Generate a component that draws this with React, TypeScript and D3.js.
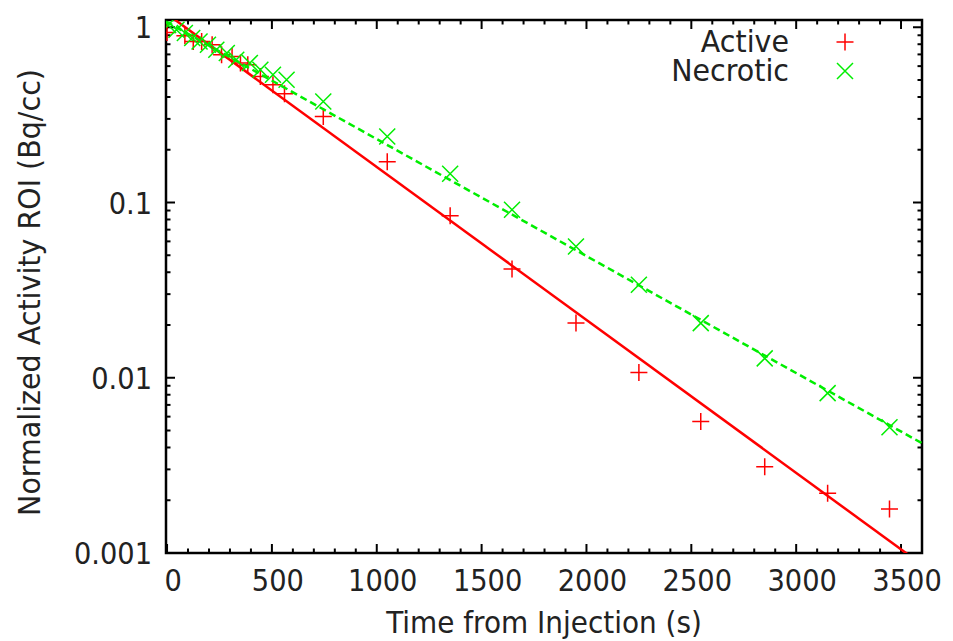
import React, { useEffect, useRef } from 'react';
import * as d3 from 'd3';

// Measured points (time in s, normalized activity)
const activeTimes = [0, 85, 125, 165, 215, 260, 310, 350, 385, 445, 505, 560, 745, 1050, 1350, 1645, 1950, 2250, 2545, 2850, 3150, 3445];
const activeValues = [0.934, 0.894, 0.83, 0.83, 0.795, 0.697, 0.681, 0.625, 0.611, 0.524, 0.47, 0.417, 0.31, 0.171, 0.084, 0.0417, 0.0205, 0.0107, 0.00562, 0.00311, 0.00219, 0.00178];

const necroticTimes = [5, 45, 85, 120, 155, 195, 235, 285, 330, 395, 445, 505, 570, 745, 1050, 1350, 1645, 1950, 2250, 2545, 2850, 3150, 3445];
const necroticValues = [1.03, 0.968, 0.927, 0.868, 0.83, 0.795, 0.744, 0.713, 0.652, 0.625, 0.572, 0.536, 0.502, 0.377, 0.238, 0.146, 0.0909, 0.0561, 0.0339, 0.0205, 0.0129, 0.00817, 0.00522];

// Exponential fits (straight on the log axis): end points
const activeFitTimes = [0, 3600];
const activeFitValues = [1.19, 0.000858];
const necroticFitTimes = [-5, 3600];
const necroticFitValues = [1.078, 0.00423];

const xTicks = [0, 500, 1000, 1500, 2000, 2500, 3000, 3500];
const yTicks = [0.001, 0.01, 0.1, 1];
const yTickLabels = ['0.001', '0.01', '0.1', '1'];

const seriesNames = ['Active', 'Necrotic'];

export default function App() {
    const svgRef = useRef<SVGSVGElement>(null);

    useEffect(() => {
        document.body.style.margin = '0';
        const svg = d3.select(svgRef.current);
        svg.selectAll('*').remove();

        const W = 953, H = 641;
        const left = 166, right = 922, top = 20, bottom = 553;
        const font = "'DejaVu Sans', sans-serif";
        const fs = 31;
        const squeeze = 0.88;   // tick labels
        const squeezeT = 0.9;   // titles and legend

        svg.attr('width', W).attr('height', H);
        svg.append('rect').attr('width', W).attr('height', H).attr('fill', '#fff');

        const x = d3.scaleLinear().domain([-5, 3600]).range([left, right]);
        const y = d3.scaleLog().domain([0.001, 1.1]).range([bottom, top]);

        svg.append('clipPath').attr('id', 'plotclip')
            .append('rect')
            .attr('x', left).attr('y', top)
            .attr('width', right - left).attr('height', bottom - top);

        // ticks (mirrored, inward)
        const ticks = svg.append('g').attr('stroke', '#000').attr('stroke-width', 2);
        const xMinor = d3.range(0, 3601, 100);
        xMinor.forEach(t => {
            const len = t % 500 === 0 ? 9 : 4.5;
            const px = x(t);
            ticks.append('line').attr('x1', px).attr('x2', px).attr('y1', bottom).attr('y2', bottom - len);
            ticks.append('line').attr('x1', px).attr('x2', px).attr('y1', top).attr('y2', top + len);
        });
        const yMinor: number[] = [];
        [0.001, 0.01, 0.1, 1].forEach(d => {
            for (let m = 1; m <= 9; m++) {
                const v = d * m;
                if (v <= 1.1) yMinor.push(v);
            }
        });
        yMinor.forEach(v => {
            const major = yTicks.some(t => Math.abs(t - v) < 1e-9);
            const len = major ? 9 : 4.5;
            const py = y(v);
            ticks.append('line').attr('x1', left).attr('x2', left + len).attr('y1', py).attr('y2', py);
            ticks.append('line').attr('x1', right).attr('x2', right - len).attr('y1', py).attr('y2', py);
        });

        // frame
        svg.append('rect')
            .attr('x', left).attr('y', top)
            .attr('width', right - left).attr('height', bottom - top)
            .attr('fill', 'none').attr('stroke', '#000').attr('stroke-width', 2.5);

        // tick labels (narrow, like the gd renderer)
        const labels = svg.append('g')
            .attr('font-family', font).attr('font-size', fs).attr('fill', '#222');
        xTicks.forEach(t => {
            labels.append('text')
                .attr('transform', `translate(${x(t) + 6},591) scale(${squeeze},1)`)
                .attr('text-anchor', 'middle')
                .text(String(t));
        });
        yTicks.forEach((t, i) => {
            labels.append('text')
                .attr('transform', `translate(152,${y(t) + 11}) scale(${squeeze},1)`)
                .attr('text-anchor', 'end')
                .text(yTickLabels[i]);
        });

        // axis titles
        labels.append('text')
            .attr('transform', `translate(${(left + right) / 2},633) scale(${squeezeT},1)`)
            .attr('text-anchor', 'middle')
            .text('Time from Injection (s)');
        labels.append('text')
            .attr('transform', `translate(40,${(top + bottom) / 2 + 6}) rotate(-90) scale(${squeezeT + 0.02},1)`)
            .attr('text-anchor', 'middle')
            .text('Normalized Activity ROI (Bq/cc)');

        const plot = svg.append('g').attr('clip-path', 'url(#plotclip)');
        const line = d3.line<[number, number]>()
            .x(d => x(d[0]))
            .y(d => y(d[1]));

        const plusPath = (cx: number, cy: number, r: number) =>
            `M${cx - r},${cy}H${cx + r}M${cx},${cy - r}V${cy + r}`;
        const crossPath = (cx: number, cy: number, r: number) =>
            `M${cx - r},${cy - r}L${cx + r},${cy + r}M${cx - r},${cy + r}L${cx + r},${cy - r}`;

        // Active
        plot.append('path')
            .datum(activeFitTimes.map((t, i) => [t, activeFitValues[i]] as [number, number]))
            .attr('fill', 'none').attr('stroke', '#ff0000').attr('stroke-width', 2.5)
            .attr('d', line);
        plot.append('g').selectAll('path')
            .data(activeTimes.map((t, i) => [t, activeValues[i]]))
            .join('path')
            .attr('d', d => plusPath(x(d[0]), y(d[1]), 8.5))
            .attr('stroke', '#ff0000').attr('stroke-width', 1.5).attr('fill', 'none');

        // Necrotic
        plot.append('path')
            .datum(necroticFitTimes.map((t, i) => [t, necroticFitValues[i]] as [number, number]))
            .attr('fill', 'none').attr('stroke', '#00ee00').attr('stroke-width', 2.5)
            .attr('stroke-dasharray', '7,4')
            .attr('d', line);
        plot.append('g').selectAll('path')
            .data(necroticTimes.map((t, i) => [t, necroticValues[i]]))
            .join('path')
            .attr('d', d => crossPath(x(d[0]), y(d[1]), 8))
            .attr('stroke', '#00ee00').attr('stroke-width', 1.5).attr('fill', 'none');

        // legend
        const legend = svg.append('g');
        seriesNames.forEach((name, i) => {
            const ly = 42 + i * 29;
            legend.append('text')
                .attr('transform', `translate(789,${ly + 10}) scale(${squeezeT + 0.02},1)`)
                .attr('text-anchor', 'end')
                .attr('font-family', font).attr('font-size', fs).attr('fill', '#222')
                .text(name);
            legend.append('path')
                .attr('d', i === 0 ? plusPath(845, ly, 8.5) : crossPath(845, ly, 8))
                .attr('stroke', i === 0 ? '#ff0000' : '#00ee00')
                .attr('stroke-width', 1.5).attr('fill', 'none');
        });
    }, []);

    return (
        <div className="d3-chart">
            <svg ref={svgRef}></svg>
        </div>
    );
}
